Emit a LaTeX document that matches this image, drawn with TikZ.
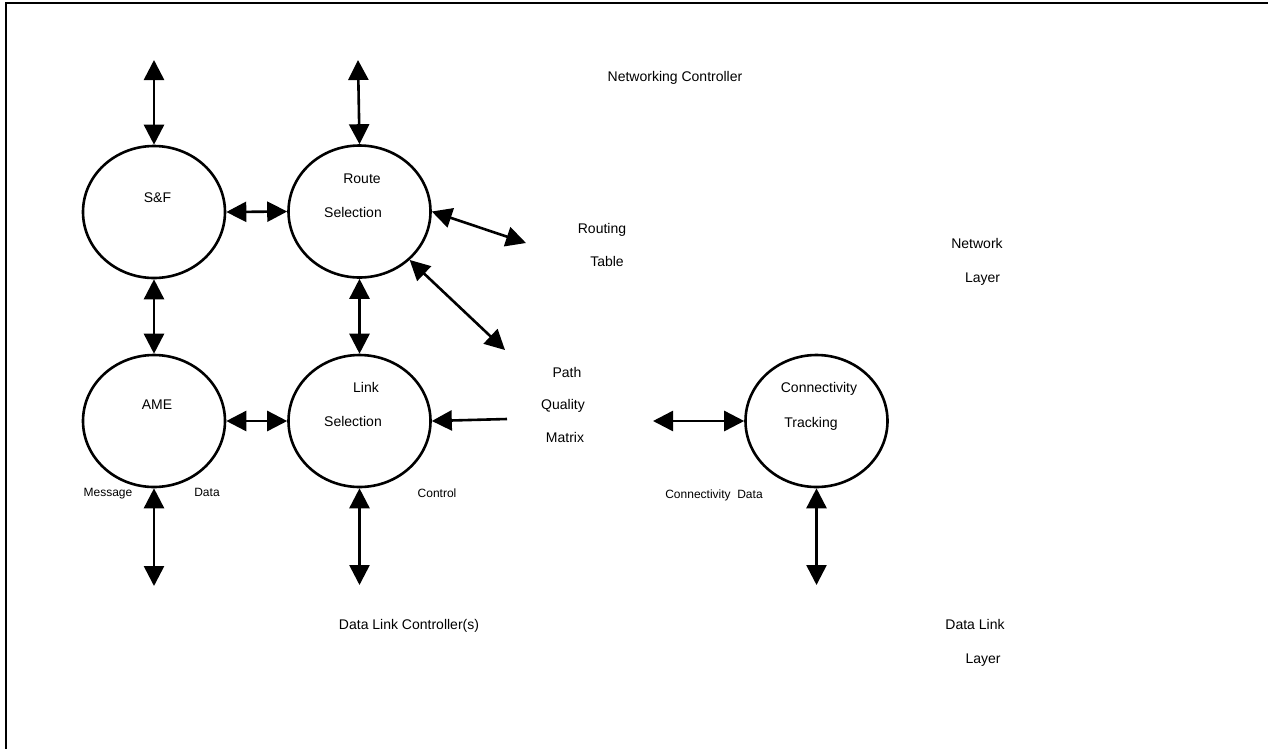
\documentclass[tikz,border=0pt]{standalone}
\usepackage{fontspec}
\setmainfont{Liberation Sans}
\usetikzlibrary{arrows.meta,shapes.geometric}
\begin{document}
\begin{tikzpicture}[x=1pt,y=-1pt,
 proc/.style={draw, ellipse, line width=2.6pt, minimum width=142pt, minimum height=132pt, inner sep=0pt},
 lbl/.style={font=\fontsize{14}{16}\selectfont, inner sep=0pt, text height=10pt, text depth=0pt},
 small/.style={font=\fontsize{12}{14}\selectfont, inner sep=0pt, text height=8.6pt, text depth=0pt},
 flow/.style={line width=2.6pt, {Triangle[length=20pt,width=20pt]}-{Triangle[length=20pt,width=20pt]}},
 inflow/.style={line width=2.6pt, -{Triangle[length=20pt,width=20pt]}}]
\useasboundingbox (0,0) rectangle (1268,748);
\draw[line width=2pt] (6,749) -- (6,3) -- (1269,3);

% processes
\node[proc] (sf) at (154,212) {};
\node[proc] (rs) at (359.5,211.5) {};
\node[proc] (ame) at (154,421) {};
\node[proc] (ls) at (359.5,421) {};
\node[proc] (ct) at (816.5,421) {};

% texts
\node[lbl] (tsf) at (157.5,197) {S\&F};
\node[lbl] (trs1) at (362,178) {Route};
\node[lbl] (trs2) at (353,212) {Selection};
\node[lbl] (tame) at (157,404) {AME};
\node[lbl] (tls1) at (366,387) {Link};
\node[lbl] (tls2) at (353,421) {Selection};
\node[lbl] (tct1) at (819,387) {Connectivity};
\node[lbl] (tct2) at (811,422) {Tracking};
\node[lbl] (nc) at (675,76) {Networking Controller};
\node[lbl] (rt1) at (602,228) {Routing};
\node[lbl] (rt2) at (607,261) {Table};
\node[lbl] (pq1) at (567,372) {Path};
\node[lbl] (pq2) at (563,404) {Quality};
\node[lbl] (pq3) at (565,437) {Matrix};
\node[lbl] (nl1) at (977,243) {Network};
\node[lbl] (nl2) at (982.5,277) {Layer};
\node[lbl] (dlc) at (409,624) {Data Link Controller(s)};
\node[lbl] (dl1) at (975,624) {Data Link};
\node[lbl] (dl2) at (983,658) {Layer};
\node[small] (msg) at (108,492) {Message};
\node[small] (dat) at (207,492) {Data};
\node[small] (ctl) at (437,493) {Control};
\node[small] (cd) at (714,494) {Connectivity\ \ Data};

% free ends
\coordinate (sfT) at (154,60);
\coordinate (rsT) at (358,60);
\coordinate (rtA) at (526,243);
\coordinate (pqA) at (505,350);
\coordinate (pqB) at (507,419);
\coordinate (ctA) at (653,421);
\coordinate (ameB) at (154,586);
\coordinate (lsB) at (359.5,585);
\coordinate (ctB) at (816.5,585);

% connectors
\draw[flow] (sf.north) -- (sfT);
\draw[flow] (rs.north) -- (rsT);
\draw[flow] (sf.east) -- (rs.west);
\draw[flow] (rs.east) -- (rtA);
\draw[flow] (rs.-44) -- (pqA);
\draw[flow] (sf.south) -- (ame.north);
\draw[flow] (rs.south) -- (ls.north);
\draw[flow] (ame.east) -- (ls.west);
\draw[inflow] (pqB) -- (ls.east);
\draw[flow] (ctA) -- (ct.west);
\draw[flow] (ame.south) -- (ameB);
\draw[flow] (ls.south) -- (lsB);
\draw[flow] (ct.south) -- (ctB);
\end{tikzpicture}
\end{document}
